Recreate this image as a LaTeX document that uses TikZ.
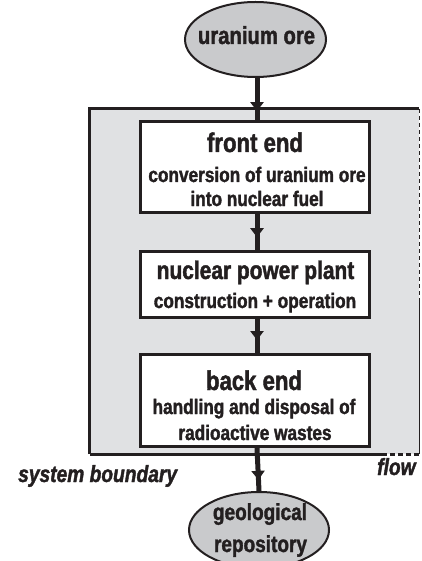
\documentclass[tikz,border=0pt]{standalone}
\usepackage{fontspec}
\setmainfont{Liberation Sans}[FakeStretch=0.82,BoldFeatures={FakeBold=1.6},BoldItalicFeatures={FakeBold=1.6}]
\usetikzlibrary{arrows.meta,decorations.markings,calc,shapes.geometric}
\definecolor{bndgray}{HTML}{E0E1E3}
\definecolor{ovalgray}{HTML}{C9CACC}
\definecolor{ink}{HTML}{231F20}
\begin{document}
\begin{tikzpicture}[x=1pt,y=-1pt,
  procbox/.style={draw=ink,line width=3pt,fill=white,minimum width=229pt,inner sep=0pt},
  oval/.style={ellipse,draw=ink,line width=2pt,fill=ovalgray,inner sep=0pt},
  lbl/.style={anchor=base,inner sep=0pt,text=ink,font=\bfseries\fontsize{#1}{#1}\selectfont},
  bline/.style={draw=ink,line width=2.7pt},
  flowarrow/.style={draw=ink,line width=5pt,postaction={decorate},
    decoration={markings,mark=at position #1 with {\arrow[ink]{Triangle[width=13pt,length=9pt]}}}}
]
\useasboundingbox (0,0) rectangle (422,561);
% system boundary
\node[name=bnd,fill=bndgray,minimum width=329pt,minimum height=345pt,inner sep=0pt] at (254.5,281.5) {};
\coordinate (rbreak) at ($(bnd.north east)+(0,189)$);
\coordinate (bbreak) at ($(bnd.south east)+(-37,0)$);
\draw[bline] (bnd.south west) -- (bnd.north west) -- (bnd.north east);
\draw[draw=ink,line width=1.2pt,dash pattern=on 4pt off 3pt] (bnd.north east) -- (rbreak);
\draw[draw=ink,line width=1.2pt] (rbreak) -- (bnd.south east);
\draw[bline] (bnd.south west) -- (bbreak);
\draw[bline,dash pattern=on 5pt off 3pt] (bbreak) -- (bnd.south east);
% nodes
\node[oval,minimum width=141pt,minimum height=75pt] (ore) at (255.5,39.5) {};
\node[procbox,minimum height=90pt] (front) at (255,167) {};
\node[procbox,minimum height=66pt] (npp) at (255,284.5) {};
\node[procbox,minimum height=92pt] (back) at (255,400.5) {};
\node[oval,minimum width=140pt,minimum height=76pt] (repo) at (259,530) {};
% arrows
\draw[flowarrow=0.78] ([xshift=1.5pt]ore.south) -- ([xshift=2pt]front.north);
\draw[flowarrow=0.65] ([xshift=2pt]front.south) -- ([xshift=2pt]npp.north);
\draw[flowarrow=0.62] ([xshift=2pt]npp.south) -- ([xshift=2pt]back.north);
\draw[flowarrow=0.74] ([xshift=2pt]back.south) -- ([xshift=0pt]repo.north);
% texts
\node[lbl=24.7] (tore) at (256.5,44) {uranium ore};
\node[lbl=27] (tfront) at (255,152) {front end};
\node[lbl=21] (tfront2) at (257,182) {conversion of uranium ore};
\node[lbl=21] (tfront3) at (257,206) {into nuclear fuel};
\node[lbl=25.5] (tnpp) at (255.5,279) {nuclear power plant};
\node[lbl=21] (tnpp2) at (255,308) {construction + operation};
\node[lbl=27] (tback) at (254,390) {back end};
\node[lbl=21] (tback2) at (254,414) {handling and disposal of};
\node[lbl=21] (tback3) at (255,440) {radioactive wastes};
\node[lbl=23.2] (trepo) at (260,520) {geological};
\node[lbl=23.2] (trepo2) at (260.5,552) {repository};
\node[anchor=base west,inner sep=0pt,text=ink,font=\bfseries\itshape\fontsize{23.4}{23.4}\selectfont] (tsys) at (18,482) {system boundary};
\node[anchor=base west,inner sep=0pt,text=ink,font=\bfseries\itshape\fontsize{23.4}{23.4}\selectfont] (tflow) at (377,475) {flow};
\end{tikzpicture}
\end{document}
